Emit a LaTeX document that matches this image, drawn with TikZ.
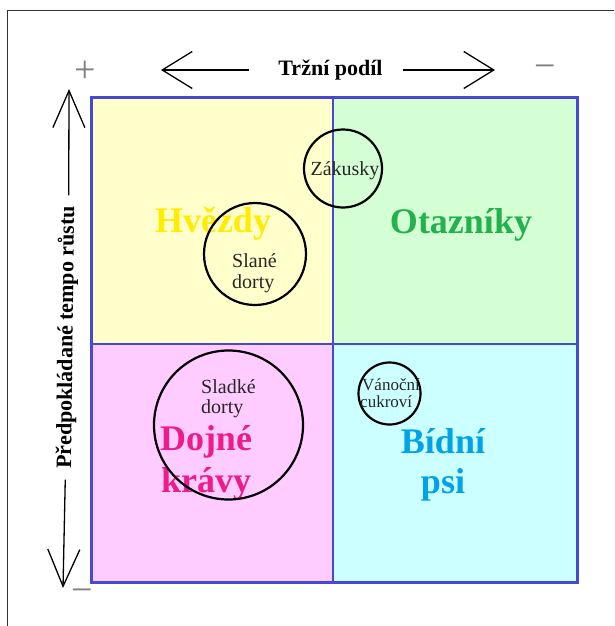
\documentclass[tikz,border=0pt]{standalone}
\usepackage{fontspec}
\setmainfont{Liberation Serif}
\usetikzlibrary{arrows.meta}
\definecolor{qyellow}{RGB}{255,255,204}
\definecolor{qgreen}{RGB}{212,255,212}
\definecolor{qpink}{RGB}{255,204,255}
\definecolor{qcyan}{RGB}{204,255,255}
\definecolor{gridblue}{RGB}{72,72,208}
\definecolor{starcol}{RGB}{255,236,0}
\definecolor{quescol}{RGB}{34,177,76}
\definecolor{cowcol}{RGB}{236,28,140}
\definecolor{dogcol}{RGB}{0,162,232}
\definecolor{signgray}{RGB}{128,128,128}
\begin{document}
\begin{tikzpicture}[x=1pt,y=-1pt,
  bubble/.style={circle, draw=black, line width=2.2pt, inner sep=0pt},
  smalltext/.style={font=\fontsize{20}{22}\selectfont, inner sep=0pt, anchor=base west, text=black!85},
  tinytext/.style={font=\fontsize{17}{19}\selectfont, inner sep=0pt, anchor=base west, text=black!85},
  biglabel/.style={font=\fontsize{36}{40}\selectfont\bfseries, inner sep=0pt, anchor=base},
  axistitle/.style={font=\fontsize{22}{24}\selectfont\bfseries, inner sep=0pt},
  harrow/.style={line width=1.3pt, -{Straight Barb[length=30pt,width=37pt,line width=1.3pt]}},
  varrow/.style={line width=1.3pt, -{Straight Barb[length=37pt,width=32pt,line width=1.3pt]}},
  sign/.style={font=\fontsize{38}{40}\selectfont, text=signgray, inner sep=0pt}
]
\useasboundingbox (0,0) rectangle (614,626);
% outer frame
\draw[line width=1pt, black!80] (7,626) -- (7,11) -- (614,11);

% quadrants
\fill[qyellow] (91,97) rectangle (333,344);
\fill[qgreen] (333,97) rectangle (577,344);
\fill[qpink] (91,344) rectangle (333,582);
\fill[qcyan] (333,344) rectangle (577,582);
\draw[gridblue, line width=2pt] (333,97) -- (333,582);
\draw[gridblue, line width=2pt] (91,344) -- (577,344);
\draw[gridblue, line width=3pt] (91,97) rectangle (577,582);

% top axis: market share
\node[axistitle, anchor=base] (xlab) at (330.5,75) {Tržní podíl};
\coordinate (xleftend) at (249,70);
\coordinate (xlefttip) at (161,70);
\coordinate (xrightend) at (403,70);
\coordinate (xrighttip) at (495,70);
\draw[harrow] (xleftend) -- (xlefttip);
\draw[harrow] (xrightend) -- (xrighttip);

% left axis: expected growth rate
\coordinate (ytop) at (69,89);
\coordinate (ybot) at (63,588);
\node[axistitle, rotate=89.3, inner xsep=10.5pt] (ylab) at (67,337.5) {Předpokládané tempo růstu};
\draw[varrow] (ylab.east) -- (ytop);
\draw[varrow] (ylab.west) -- (ybot);

% plus / minus signs
\node[sign] (plus) at (85,72) {+};
\node[sign] (minustop) at (545,72) {−};
\node[sign] (minusbot) at (82,596) {−};

% quadrant names
\node[biglabel, text=starcol] (stars) at (213,232) {Hvězdy};
\node[biglabel, text=quescol] (questions) at (461,233) {Otazníky};
\node[biglabel, text=cowcol] (cows1) at (206,450) {Dojné};
\node[biglabel, text=cowcol] (cows2) at (206,492) {krávy};
\node[biglabel, text=dogcol] (dogs1) at (443,453) {Bídní};
\node[biglabel, text=dogcol] (dogs2) at (443,493) {psi};

% product bubbles
\node[bubble, minimum size=78pt] (zak) at (343,168.5) {};
\node[bubble, minimum size=102pt] (slane) at (255,254) {};
\node[bubble, minimum size=149pt] (sladke) at (228.5,425) {};
\node[bubble, minimum size=62pt] (vanoce) at (389.5,393.5) {};

\node[smalltext, anchor=base] (zaktext) at (345,175) {Zákusky};
\node[smalltext] (slane1) at (232,267) {Slané};
\node[smalltext] (slane2) at (232,288) {dorty};
\node[smalltext] (sladke1) at (201,393) {Sladké};
\node[smalltext] (sladke2) at (201,413) {dorty};
\node[tinytext] (vanoce1) at (362,390) {Vánoční};
\node[tinytext] (vanoce2) at (360,407) {cukroví};
\end{tikzpicture}
\end{document}
